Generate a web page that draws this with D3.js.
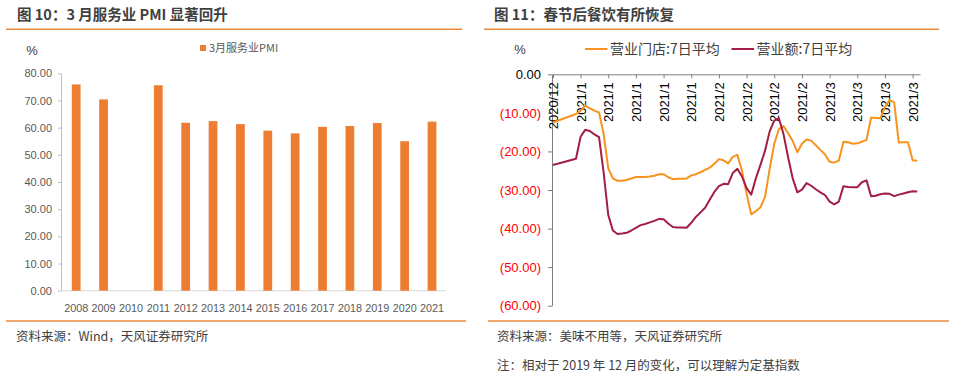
<!DOCTYPE html>
<html><head><meta charset="utf-8">
<script src="https://cdn.jsdelivr.net/npm/d3@7"></script>
<style>
body{margin:0;background:#fff;}
svg{display:block;}
</style></head>
<body>
<svg id="c" width="964" height="379"></svg>
<script>
// ---------- Data: left chart ----------
const pmiYears = ["2008","2009","2010","2011","2012","2013","2014","2015","2016","2017","2018","2019","2020","2021"];
const pmiValues = [75.9, 70.4, null, 75.6, 61.8, 62.4, 61.3, 58.9, 57.9, 60.3, 60.6, 61.7, 55.0, 62.2];
const pmiTicks = [0,10,20,30,40,50,60,70,80];
const pmiSeriesName = "3月服务业PMI";

// ---------- Data: right chart ----------
// day offset from 2020/12/31
const dayIndex = [0,5,6,7,8,9,10,11,12,13,14,15,16,17,18,19,20,21,22,23,24,25,26,27,28,29,30,31,32,33,34,35,36,37,38,39,40,41,42,43,44,45,46,47,48,49,50,51,52,53,54,55,56,57,58,59,60,61,62,63,64,65,66,67,68,69,70,71,72,73,74,75,76,77,78,79];
const storesAvg7 = [-12.5,-10.3,-9.5,-8.1,-8.8,-9.4,-9.9,-15.5,-24.4,-27.0,-27.6,-27.6,-27.4,-27.0,-26.6,-26.6,-26.6,-26.5,-26.3,-25.9,-25.9,-26.7,-27.2,-27.1,-27.1,-27.0,-26.2,-25.9,-25.4,-24.8,-24.2,-23.2,-22.0,-22.3,-23.1,-21.4,-20.9,-25.0,-31.0,-36.3,-35.5,-34.5,-31.8,-24.5,-18.0,-14.2,-13.4,-15.3,-17.3,-20.2,-18.0,-16.9,-17.2,-18.4,-19.6,-20.8,-22.7,-22.9,-22.4,-17.5,-17.6,-18.0,-17.9,-17.5,-17.0,-11.2,-11.3,-11.4,-8.5,-6.7,-7.3,-17.7,-17.6,-17.6,-22.3,-22.4];
const revenueAvg7 = [-23.5,-21.9,-16.2,-14.4,-14.7,-15.6,-16.3,-25.5,-36.5,-40.5,-41.4,-41.3,-41.1,-40.5,-39.8,-39.1,-38.8,-38.4,-38.0,-37.5,-37.6,-38.7,-39.6,-39.7,-39.7,-39.8,-38.5,-37.0,-35.8,-34.6,-32.5,-30.5,-29.0,-28.4,-28.5,-25.6,-24.5,-26.5,-29.5,-31.2,-27.0,-23.5,-19.8,-14.8,-12.0,-11.4,-15.5,-21.5,-27.0,-30.6,-29.9,-28.2,-28.9,-29.8,-30.6,-31.3,-33.0,-33.7,-33.0,-29.0,-29.2,-29.3,-29.3,-28.0,-27.5,-31.6,-31.5,-31.1,-30.9,-31.0,-31.6,-31.2,-30.9,-30.6,-30.3,-30.4];
const xTickDays = [0,6,12,18,24,30,36,42,48,54,60,66,72,78];
const xTickLabels = ["2020/12","2021/1","2021/1","2021/1","2021/1","2021/1","2021/2","2021/2","2021/2","2021/2","2021/3","2021/3","2021/3","2021/3"];
const yTicksRight = [0,-10,-20,-30,-40,-50,-60];
const seriesNames = ["营业门店:7日平均","营业额:7日平均"];
const seriesColors = ["#F7931E","#A31E45"];

const svg = d3.select("#c");
const cjk = "'Noto Sans CJK SC','Noto Sans',sans-serif";
const lat = "'Liberation Sans',Arial,sans-serif";
const accent = "#EC8A3A";

// ---------- Titles & rules ----------
svg.append("text").attr("x",17).attr("y",20).text("图 10：3 月服务业 PMI 显著回升")
  .attr("font-family",cjk).attr("font-size",14.5).attr("font-weight","bold").attr("fill","#404040");
svg.append("text").attr("x",494).attr("y",20).text("图 11：春节后餐饮有所恢复")
  .attr("font-family",cjk).attr("font-size",14.5).attr("font-weight","bold").attr("fill","#404040");
[[6,462,29.3],[484,939,29.3],[6,466,321],[488,949,321]].forEach(l=>{
  svg.append("line").attr("x1",l[0]).attr("x2",l[1]).attr("y1",l[2]).attr("y2",l[2])
    .attr("stroke",accent).attr("stroke-width",1.5);
});
svg.append("text").attr("x",16).attr("y",341).text("资料来源：Wind，天风证券研究所")
  .attr("font-family",cjk).attr("font-size",12.5).attr("fill","#404040");
svg.append("text").attr("x",497).attr("y",341).text("资料来源：美味不用等，天风证券研究所")
  .attr("font-family",cjk).attr("font-size",12.5).attr("fill","#404040");
svg.append("text").attr("x",497).attr("y",370).text("注：相对于 2019 年 12 月的变化，可以理解为定基指数")
  .attr("font-family",cjk).attr("font-size",12.5).attr("fill","#404040");

// ---------- Left bar chart ----------
const xL = d3.scaleBand().domain(pmiYears).range([62.5,445.7]).paddingInner(0.68).paddingOuter(0.34);
const yL = d3.scaleLinear().domain([0,80]).range([290.7,73.3]);

const gyL = svg.append("g").attr("transform","translate(61,0)")
  .call(d3.axisLeft(yL).tickValues(pmiTicks).tickFormat(d3.format(".2f")).tickSize(3).tickSizeOuter(0).tickPadding(6));
gyL.select(".domain").attr("stroke","#BFBFBF");
gyL.selectAll(".tick line").attr("stroke","#BFBFBF");
gyL.selectAll("text").attr("font-family",lat).attr("font-size",11).attr("fill","#595959");

const gxL = svg.append("g").attr("transform","translate(0,290.7)")
  .call(d3.axisBottom(xL).tickSize(0).tickSizeOuter(0).tickPadding(14));
gxL.select(".domain").remove();
svg.append("line").attr("x1",61).attr("x2",xL.range()[1]).attr("y1",yL(0)).attr("y2",yL(0)).attr("stroke","#D9D9D9");
gxL.selectAll("text").attr("font-family",lat).attr("font-size",10.8).attr("fill","#595959");

svg.append("g").selectAll("rect")
  .data(pmiYears.map((y,i)=>({y, v:pmiValues[i]})).filter(d=>d.v!=null))
  .join("rect")
  .attr("x",d=>xL(d.y)).attr("width",xL.bandwidth())
  .attr("y",d=>yL(d.v)).attr("height",d=>yL(0)-yL(d.v))
  .attr("fill","#ED7D31");

svg.append("text").attr("x",32).attr("y",55).attr("text-anchor","middle").text("%")
  .attr("font-family",lat).attr("font-size",13).attr("fill","#404040");
svg.append("rect").attr("x",200).attr("y",45).attr("width",6).attr("height",6).attr("fill","#ED7D31");
svg.append("text").attr("x",209).attr("y",52).text(pmiSeriesName)
  .attr("font-family",cjk).attr("font-size",11).attr("fill","#595959");

// ---------- Right line chart ----------
const xR = d3.scaleLinear().domain([-0.2,79.6]).range([552,920]);
const yR = d3.scaleLinear().domain([-60,0]).range([305.7,74.3]);

const gyR = svg.append("g").attr("transform","translate(552,0)")
  .call(d3.axisLeft(yR).tickValues(yTicksRight).tickSize(4).tickSizeOuter(0).tickPadding(7)
    .tickFormat(v=> v===0 ? "0.00" : "(" + Math.abs(v).toFixed(2) + ")"));
gyR.select(".domain").attr("stroke","#7F7F7F");
gyR.selectAll(".tick line").attr("stroke","#7F7F7F");
gyR.selectAll("text").attr("font-family",lat).attr("font-size",13)
  .attr("fill",d=> d<0 ? "#FF0000" : "#000");

const gxR = svg.append("g").attr("transform","translate(0,"+yR(0)+")")
  .call(d3.axisBottom(xR).tickValues(xTickDays).tickSize(4).tickSizeOuter(0)
    .tickFormat((d,i)=>xTickLabels[i]));
gxR.select(".domain").attr("stroke","#7F7F7F");
gxR.selectAll(".tick line").attr("stroke","#7F7F7F");
gxR.selectAll("text").attr("font-family",lat).attr("font-size",13).attr("fill","#000")
  .attr("transform","rotate(-90)").attr("x",-8).attr("y",0).attr("dy","0.36em")
  .style("text-anchor","end");

const line = d3.line().x(d=>xR(d[0])).y(d=>yR(d[1]));
[storesAvg7, revenueAvg7].forEach((vals,k)=>{
  svg.append("path").datum(dayIndex.map((d,i)=>[d, vals[i]]))
    .attr("d",line).attr("fill","none").attr("stroke",seriesColors[k])
    .attr("stroke-width",2).attr("stroke-linejoin","round");
});

svg.append("text").attr("x",520).attr("y",54).attr("text-anchor","middle").text("%")
  .attr("font-family",lat).attr("font-size",13).attr("fill","#404040");
const legX = [585, 731.5];
seriesNames.forEach((n,k)=>{
  svg.append("line").attr("x1",legX[k]).attr("x2",legX[k]+22.5).attr("y1",49).attr("y2",49)
    .attr("stroke",seriesColors[k]).attr("stroke-width",2);
  svg.append("text").attr("x",legX[k]+25).attr("y",54).text(n)
    .attr("font-family",cjk).attr("font-size",14).attr("fill","#404040");
});
</script>
</body></html>
